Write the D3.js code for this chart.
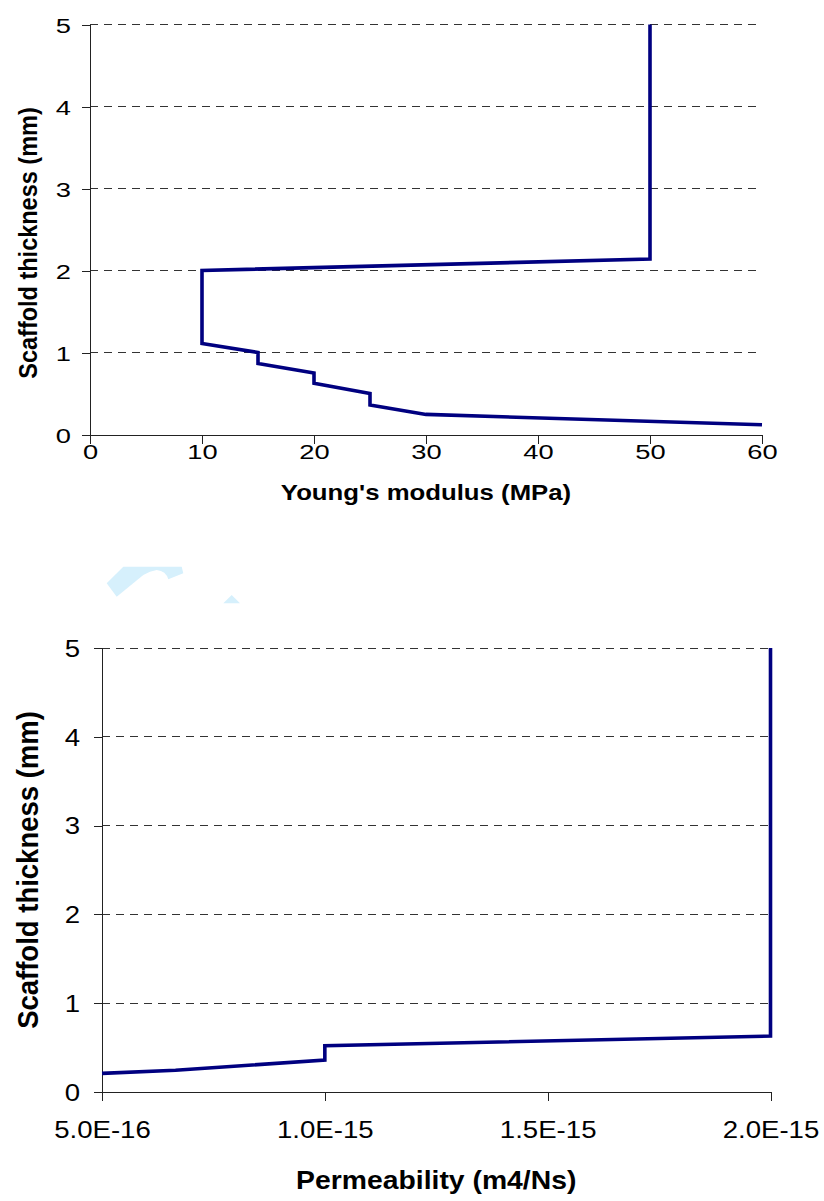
<!DOCTYPE html>
<html>
<head>
<meta charset="utf-8">
<script src="https://cdn.jsdelivr.net/npm/d3@7"></script>
<style>
  body { margin: 0; background: #fff; }
  svg { display: block; font-family: "Liberation Sans", Arial, sans-serif; }
</style>
</head>
<body>
<svg id="chart" width="824" height="1201"></svg>
<script>
// top chart: thickness vs Young's modulus
const modulusX = [50, 50, 10, 10, 15, 15, 20, 20, 25, 25, 30, 60];
const modulusY = [5, 2.14, 2.0, 1.11, 1.0, 0.865, 0.75, 0.625, 0.5, 0.36, 0.245, 0.118];
const modulusTicks = [0, 10, 20, 30, 40, 50, 60];

// bottom chart: thickness vs permeability
const permX = [5e-16, 6.65e-16, 1e-15, 1e-15, 2e-15, 2e-15];
const permY = [0.21, 0.245, 0.36, 0.52, 0.63, 5];
const permTicks = [5e-16, 1e-15, 1.5e-15, 2e-15];

const thickTicks = [0, 1, 2, 3, 4, 5];

const svg = d3.select('#chart');

// faint watermark fragments
svg.append('path')
  .attr('d', 'M106.7,583.3 L123.3,566.7 L181.7,566.7 L183.3,573.3 L168.3,579.3 Q166,571 156.7,570 Q150,571 143.3,575 L116.7,596.7 Z')
  .attr('fill', '#d6f0fc');
svg.append('path')
  .attr('d', 'M223.3,603.3 L231.7,595 L240,603.3 Z')
  .attr('fill', '#d6f0fc');

function drawChart(opt) {
  const x = d3.scaleLinear().domain(opt.xDomain).range([opt.left, opt.right]);
  const y = d3.scaleLinear().domain([0, 5]).range([opt.bottom, opt.top]);
  const g = svg.append('g');

  // dashed gridlines
  g.selectAll('.grid')
    .data(thickTicks.filter(d => d > 0))
    .enter()
    .append('line')
    .attr('x1', opt.left)
    .attr('x2', opt.right)
    .attr('y1', d => y(d))
    .attr('y2', d => y(d))
    .attr('stroke', '#333')
    .attr('stroke-width', 1)
    .attr('shape-rendering', 'crispEdges')
    .attr('stroke-dasharray', '8,6');

  const yAxis = g.append('g')
    .attr('transform', `translate(${opt.left},0)`)
    .call(d3.axisLeft(y).tickValues(thickTicks).tickFormat(d3.format('d')).tickSize(8).tickSizeOuter(0));
  const xAxis = g.append('g')
    .attr('transform', `translate(0,${opt.bottom})`)
    .call(d3.axisBottom(x).tickValues(opt.xTicks).tickFormat(opt.fmt).tickSize(9).tickSizeOuter(0));

  [yAxis, xAxis].forEach(a => {
    a.attr('font-size', opt.tickFont).attr('font-family', null);
    a.select('.domain').attr('stroke', '#222').attr('shape-rendering', 'crispEdges');
    a.selectAll('.tick line').attr('stroke', '#222').attr('shape-rendering', 'crispEdges');
    a.selectAll('.tick text').attr('fill', '#000');
  });
  yAxis.select('.domain').attr('d', `M0,${opt.bottom}V${opt.top}`);

  // tick labels in the original are stretched sideways
  yAxis.selectAll('.tick text')
    .attr('x', -opt.yGap / opt.tickSX)
    .attr('dy', '0.36em')
    .attr('transform', `scale(${opt.tickSX},1)`);
  xAxis.selectAll('.tick text')
    .attr('y', opt.xGap)
    .attr('transform', `scale(${opt.tickSX},1)`);

  const line = d3.line()
    .x(d => x(d[0]))
    .y(d => y(d[1]));

  g.append('path')
    .datum(opt.xs.map((v, i) => [v, opt.ys[i]]))
    .attr('d', line)
    .attr('fill', 'none')
    .attr('stroke', '#000080')
    .attr('stroke-width', 3.6)
    .attr('stroke-linejoin', 'miter');

  g.append('text')
    .attr('transform', `translate(${(opt.left + opt.right) / 2},${opt.xTitleY}) scale(${opt.titleSX},1)`)
    .attr('text-anchor', 'middle')
    .attr('font-size', opt.titleFont)
    .attr('font-weight', 'bold')
    .text(opt.xTitle);

  g.append('text')
    .attr('transform', `translate(${opt.yTitleX},${opt.yTitleY}) scale(1.08,1) rotate(-90)`)
    .attr('text-anchor', 'middle')
    .attr('font-size', opt.yTitleFont)
    .attr('font-weight', 'bold')
    .text('Scaffold thickness (mm)');
}

drawChart({
  left: 90, right: 762, top: 24.5, bottom: 434.5,
  xDomain: [0, 60], xTicks: modulusTicks, fmt: d3.format('d'),
  xs: modulusX, ys: modulusY,
  tickFont: 21, tickSX: 1.3,
  yGap: 19, xGap: 10,
  titleFont: 23, titleSX: 1.12, xTitle: "Young's modulus (MPa)", xTitleY: 500,
  yTitleFont: 23.5, yTitleX: 37, yTitleY: 243
});

drawChart({
  left: 102, right: 770.5, top: 648, bottom: 1092,
  xDomain: [5e-16, 2e-15], xTicks: permTicks, fmt: d => d.toExponential(1).toUpperCase(),
  xs: permX, ys: permY,
  tickFont: 23, tickSX: 1.2,
  yGap: 22, xGap: 30,
  titleFont: 26, titleSX: 1.09, xTitle: 'Permeability (m4/Ns)', xTitleY: 1189,
  yTitleFont: 27.5, yTitleX: 38, yTitleY: 870
});
</script>
</body>
</html>
